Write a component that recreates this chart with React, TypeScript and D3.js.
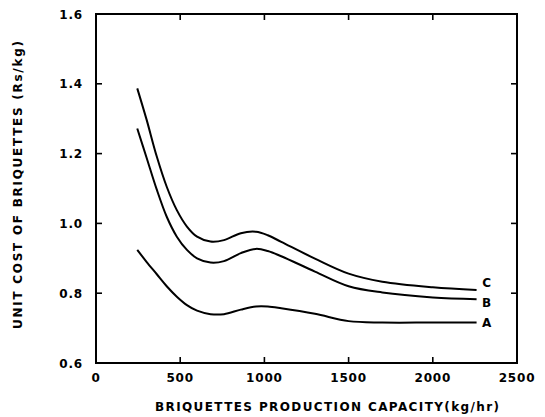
import React from "react";
import * as d3 from "d3";

const capacity = [245, 300, 360, 420, 480, 540, 600, 680, 760, 860, 950, 1020, 1100, 1300, 1500, 1700, 2000, 2260];
const costA = [0.924, 0.890, 0.855, 0.820, 0.790, 0.766, 0.750, 0.740, 0.740, 0.753, 0.762, 0.762, 0.757, 0.741, 0.720, 0.716, 0.716, 0.716];
const costB = [1.272, 1.189, 1.098, 1.019, 0.962, 0.924, 0.900, 0.888, 0.892, 0.915, 0.927, 0.921, 0.906, 0.862, 0.820, 0.802, 0.788, 0.783];
const costC = [1.387, 1.298, 1.193, 1.105, 1.038, 0.991, 0.962, 0.948, 0.952, 0.972, 0.976, 0.966, 0.947, 0.899, 0.856, 0.833, 0.817, 0.809];
const seriesNames = ["A", "B", "C"];
const labelX = 2320;
const labelY = [0.716, 0.774, 0.830];
const xTicks = [0, 500, 1000, 1500, 2000, 2500];
const yTicks = [0.6, 0.8, 1.0, 1.2, 1.4, 1.6];
const xTitle = "BRIQUETTES PRODUCTION CAPACITY(kg/hr)";
const yTitle = "UNIT COST OF BRIQUETTES (Rs/kg)";

const W = 545, H = 417;
const L = 96, R = 517, T = 14, B = 363;

export default function App() {
  const x = d3.scaleLinear().domain([0, 2500]).range([L, R]);
  const y = d3.scaleLinear().domain([0.6, 1.6]).range([B, T]);
  const line = d3.line<[number, number]>().x(d => x(d[0])).y(d => y(d[1])).curve(d3.curveCatmullRom.alpha(0.5));
  const series = [costA, costB, costC];
  const font = "'DejaVu Sans', sans-serif";
  const tk = 6;
  return (
    <svg width={W} height={H} style={{ position: "absolute", left: 0, top: 0, background: "#fff" }}>
      <rect x={L} y={T} width={R - L} height={B - T} fill="none" stroke="#000" strokeWidth={2} />
      {xTicks.map(t => (
        <g key={"x" + t}>
          <line x1={x(t)} x2={x(t)} y1={B} y2={B - tk} stroke="#000" strokeWidth={1.6} />
          <line x1={x(t)} x2={x(t)} y1={T} y2={T + tk} stroke="#000" strokeWidth={1.6} />
          <text x={x(t)} y={382} textAnchor="middle" fontFamily={font} fontWeight="bold" fontSize={12} letterSpacing={0.8}>{t}</text>
        </g>
      ))}
      {yTicks.map(t => (
        <g key={"y" + t}>
          <line x1={L} x2={L + tk} y1={y(t)} y2={y(t)} stroke="#000" strokeWidth={1.6} />
          <line x1={R} x2={R - tk} y1={y(t)} y2={y(t)} stroke="#000" strokeWidth={1.6} />
          <text x={83} y={y(t) + 4.5} textAnchor="end" fontFamily={font} fontWeight="bold" fontSize={12} letterSpacing={0.8}>{t.toFixed(1)}</text>
        </g>
      ))}
      {series.map((s, i) => (
        <path key={seriesNames[i]} d={line(capacity.map((c, j) => [c, s[j]]) as [number, number][]) || ""} fill="none" stroke="#000" strokeWidth={2} />
      ))}
      {seriesNames.map((n, i) => (
        <text key={"l" + n} x={x(labelX)} y={y(labelY[i]) + 4.5} textAnchor="middle" fontFamily={font} fontWeight="bold" fontSize={12}>{n}</text>
      ))}
      <text x={327} y={411} textAnchor="middle" fontFamily={font} fontWeight="bold" fontSize={12} textLength={344} lengthAdjust="spacing">{xTitle}</text>
      <text transform={`translate(22,185) rotate(-90)`} textAnchor="middle" fontFamily={font} fontWeight="bold" fontSize={12} textLength={288} lengthAdjust="spacing">{yTitle}</text>
    </svg>
  );
}
